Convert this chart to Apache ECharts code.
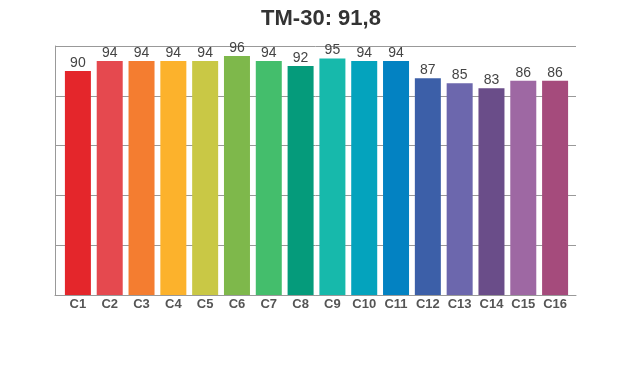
<!DOCTYPE html>
<html>
<head>
<meta charset="utf-8">
<script src="https://cdn.jsdelivr.net/npm/echarts@6/dist/echarts.min.js"></script>
<style>html,body{margin:0;padding:0;background:#fff}#c{width:620px;height:370px}</style>
</head>
<body>
<div id="c"></div>
<script>
const title = 'TM-30: 91,8';
const categories = ['C1','C2','C3','C4','C5','C6','C7','C8','C9','C10','C11','C12','C13','C14','C15','C16'];
const values = [90,94,94,94,94,96,94,92,95,94,94,87,85,83,86,86];
const colors = ['#e4262b','#e5494f','#f47d30','#fcb22c','#c9c845','#7eb84b','#44be6c','#059b7b','#17b9ab','#04a3bd','#0382c2','#3c5fa8','#6c67ad','#6a4d89','#9e68a3','#a54b7c'];
const yMin = 0, yMax = 100, yStep = 20;

const chart = echarts.init(document.getElementById('c'), null, {renderer:'canvas'});
chart.setOption({
  animation: false,
  backgroundColor: '#fff',
  title: {
    text: title, left: 316, top: 3, textAlign: 'center',
    textStyle: {fontFamily: 'Liberation Sans, Arial, sans-serif', fontSize: 22, fontWeight: 'bold', color: '#333'}
  },
  grid: [
    {left: 55, right: 44, top: 46, bottom: 75},
    {left: 62, right: 49, top: 46, bottom: 75}
  ],
  xAxis: [
    {gridIndex: 0, type: 'category', data: categories, axisLine: {show: true, lineStyle: {color: '#999', width: 1}},
     axisTick: {show: false}, axisLabel: {show: false}, splitLine: {show: false}},
    {gridIndex: 1, type: 'category', data: categories, axisLine: {show: false}, axisTick: {show: false},
     axisLabel: {margin: 3, fontFamily: 'Liberation Sans, Arial, sans-serif', fontSize: 13, fontWeight: 'bold', color: '#555', interval: 0}}
  ],
  yAxis: [
    {gridIndex: 0, type: 'value', min: yMin, max: yMax, interval: yStep,
     axisLine: {show: true, lineStyle: {color: '#999', width: 1}}, axisTick: {show: false}, axisLabel: {show: false},
     splitLine: {show: true, lineStyle: {color: '#999', width: 1}}},
    {gridIndex: 1, type: 'value', min: yMin, max: yMax, interval: yStep, show: false}
  ],
  series: [{
    type: 'bar', xAxisIndex: 1, yAxisIndex: 1,
    data: values.map((v, i) => ({value: v, itemStyle: {color: colors[i]}})),
    barWidth: 26,
    label: {show: true, position: 'top', distance: 1, fontFamily: 'Liberation Sans, Arial, sans-serif', fontSize: 14, color: '#444'}
  }]
});
</script>
</body>
</html>
